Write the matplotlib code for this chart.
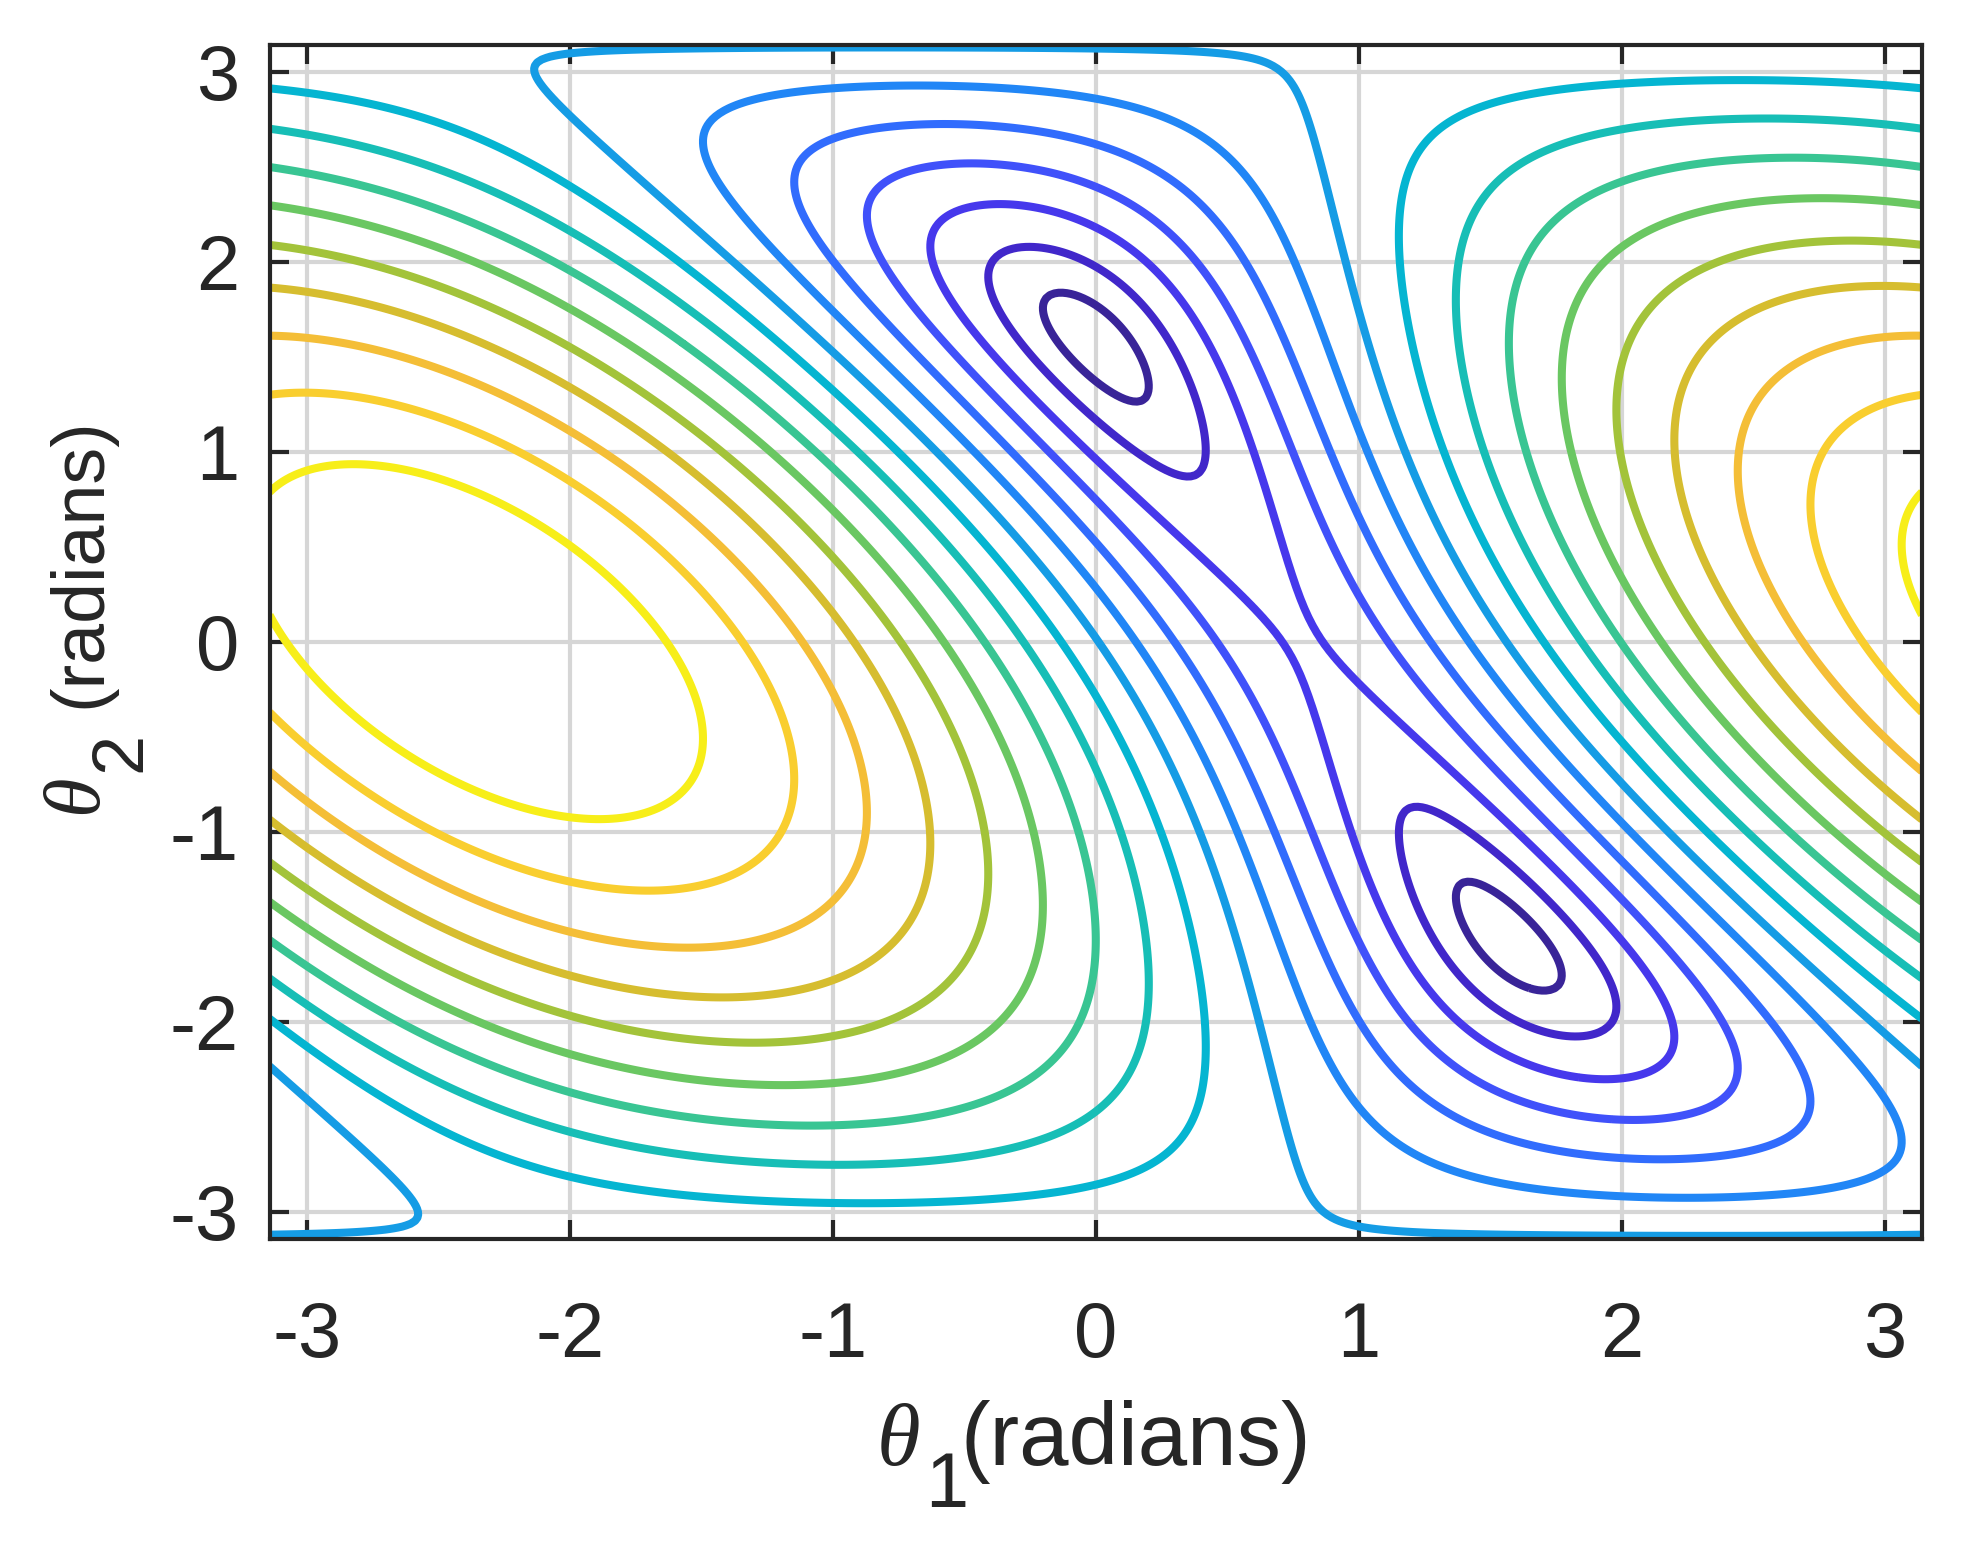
import numpy as np
import matplotlib
matplotlib.use('Agg')
import matplotlib.pyplot as plt
from matplotlib.colors import LinearSegmentedColormap

# two-link arm, distance from the hand to the target point
link1 = 1.0
link2 = 1.0
target = [1.0, 1.0]
level_first = 0.2
level_last = 3.2
level_step = 0.2
grid_n = 401

ticks = [-3, -2, -1, 0, 1, 2, 3]

# parula-like colour map (MATLAB default)
cmap_pos = [0.0, 0.067, 0.133, 0.2, 0.267, 0.333, 0.4, 0.467, 0.533, 0.6,
            0.667, 0.733, 0.8, 0.867, 0.933, 1.0]
cmap_rgb = [(0.2422, 0.1504, 0.6603), (0.22, 0.14, 0.58), (0.27, 0.16, 0.88),
            (0.28, 0.26, 0.96), (0.22, 0.38, 1.0), (0.14, 0.50, 0.98),
            (0.09, 0.60, 0.91), (0.02, 0.71, 0.82), (0.10, 0.75, 0.70),
            (0.26, 0.78, 0.54), (0.50, 0.78, 0.30), (0.76, 0.75, 0.16),
            (0.95, 0.73, 0.22), (0.98, 0.78, 0.20), (0.97, 0.93, 0.10),
            (0.9769, 0.9839, 0.0805)]
parula = LinearSegmentedColormap.from_list('parula', list(zip(cmap_pos, cmap_rgb)))

th = np.linspace(-np.pi, np.pi, grid_n)
T1, T2 = np.meshgrid(th, th)
hx = link1*np.cos(T1) + link2*np.cos(T1+T2)
hy = link1*np.sin(T1) + link2*np.sin(T1+T2)
D = np.sqrt((hx-target[0])**2 + (hy-target[1])**2)

levels = np.arange(level_first, level_last + level_step/2, level_step)

plt.rcParams['font.family'] = 'Liberation Sans'
plt.rcParams['mathtext.fontset'] = 'custom'
plt.rcParams['mathtext.it'] = 'Liberation Serif:italic'
plt.rcParams['mathtext.rm'] = 'Liberation Sans'

fig = plt.figure(figsize=(19.68, 15.43), dpi=100)
ax = fig.add_axes([0.137, 0.1973, 0.8396, 0.7737])

ax.grid(True, color='#d6d6d6', lw=3, zorder=0)
ax.set_axisbelow(True)
ax.contour(T1, T2, D, levels=levels, cmap=parula, vmin=D.min(), vmax=D.max(),
           linewidths=5.8, zorder=2)

ax.set_xlim(-np.pi, np.pi)
ax.set_ylim(-np.pi, np.pi)
ax.set_xticks(ticks)
ax.set_yticks(ticks)
ax.set_xticklabels([str(t) for t in ticks])
ax.set_yticklabels([str(t) for t in ticks])
ax.tick_params(direction='in', length=14, width=3, labelsize=56, color='#262626',
               labelcolor='#262626', top=True, right=True)
ax.tick_params(axis='x', pad=44)
ax.tick_params(axis='y', pad=22)
for s in ax.spines.values():
    s.set_linewidth(3)
    s.set_color('#262626')
    s.set_zorder(5)

# axis labels built from pieces so the subscript stays large
fig.text(0.4450, 0.0506, r'$\theta$', fontsize=64, ha='left', va='baseline', color='#262626')
fig.text(0.470, 0.0233, '1', fontsize=56, ha='left', va='baseline', color='#262626')
fig.text(0.4880, 0.0506, '(radians)', fontsize=64, ha='left', va='baseline', color='#262626')

fig.text(0.0508, 0.470, r'$\theta$', fontsize=58, rotation=90, rotation_mode='anchor',
         ha='left', va='baseline', color='#262626')
fig.text(0.0711, 0.500, '2', fontsize=52, rotation=90, rotation_mode='anchor',
         ha='left', va='baseline', color='#262626')
fig.text(0.0508, 0.5412, '(radians)', fontsize=53, rotation=90, rotation_mode='anchor',
         ha='left', va='baseline', color='#262626')

fig.savefig('out.png', dpi=100)
